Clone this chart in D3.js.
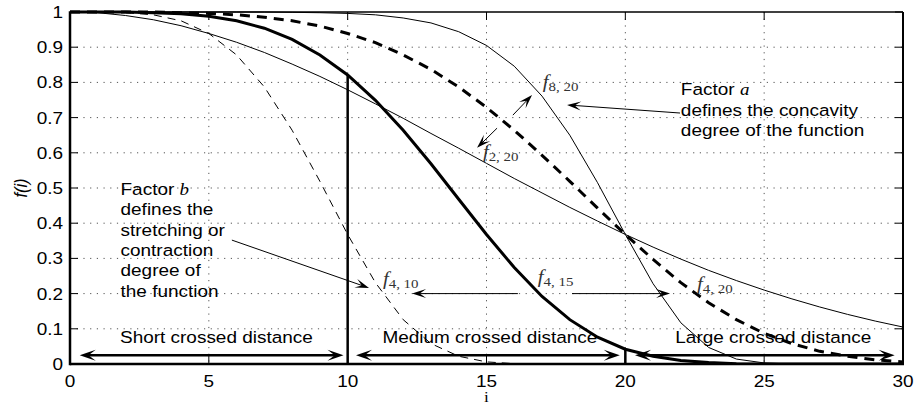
<!DOCTYPE html>
<meta charset="utf-8">
<style>
body { margin: 0; background: #fff; }
text { font-family: "Liberation Sans", Arial, sans-serif; fill: #000; }
.grid line { stroke: #555; stroke-width: 1; stroke-dasharray: 1.2,5.5; }
.curve { fill: none; stroke: #000; }
.math { font-family: "Liberation Serif", "DejaVu Serif", serif; fill: #333; }
</style>
<body>
<svg width="916" height="407"></svg>
<script src="https://d3js.org/d3.v7.min.js"></script>
<script>

// values, one per integer i
var iVals = [0,1,2,3,4,5,6,7,8,9,10,11,12,13,14,15,16,17,18,19,20,21,22,23,24,25,26,27,28,29,30];
var f2_20 = [1.000,0.998,0.990,0.978,0.961,0.939,0.914,0.885,0.852,0.817,0.779,0.739,0.698,0.655,0.613,0.570,0.527,0.486,0.445,0.406,0.368,0.332,0.298,0.266,0.237,0.210,0.185,0.162,0.141,0.122,0.105];
var f8_20 = [1,1,1,1,1,1,1,1,0.999,0.998,0.996,0.992,0.983,0.969,0.944,0.905,0.846,0.761,0.650,0.515,0.368,0.228,0.117,0.047,0.014,0.003,0,0,0,0,0];
var f4_20 = [1,1,1,1,0.998,0.996,0.992,0.985,0.975,0.960,0.939,0.913,0.878,0.837,0.787,0.729,0.664,0.593,0.519,0.443,0.368,0.297,0.231,0.174,0.126,0.087,0.058,0.036,0.022,0.012,0.006];
var f4_15 = [1,1,1,0.998,0.995,0.988,0.975,0.954,0.922,0.878,0.821,0.749,0.664,0.569,0.468,0.368,0.274,0.192,0.126,0.076,0.042,0.022,0.010,0.004,0.001,0,0,0,0,0,0];
var f4_10 = [1,1,0.998,0.992,0.975,0.939,0.878,0.787,0.664,0.519,0.368,0.231,0.126,0.058,0.022,0.006,0.001,0,0,0,0,0,0,0,0,0,0,0,0,0,0];

var xTicks = [0,5,10,15,20,25,30];
var yTicks = [0,0.1,0.2,0.3,0.4,0.5,0.6,0.7,0.8,0.9,1];

// distance bands (i from, i to) at the bottom
var bandNames = ["Short crossed distance", "Medium crossed distance", "Large crossed distance"];
var bandFrom = [0.35, 10.3, 20.35];
var bandTo = [9.85, 19.8, 29.7];
var bandLabelAt = [1.8, 11.25, 21.8];

// vertical cut lines: i and height
var cutI = [10, 20];
var cutTop = [0.821, 0.042];

var svg = d3.select("svg"),
    margin = {top: 12, right: 13, bottom: 43, left: 70},
    width = +svg.attr("width") - margin.left - margin.right,
    height = +svg.attr("height") - margin.top - margin.bottom;

var x = d3.scaleLinear().domain([0, 30]).range([0, width]);
var y = d3.scaleLinear().domain([0, 1]).range([height, 0]);

var g = svg.append("g").attr("transform", "translate(" + margin.left + "," + margin.top + ")");

var SX = 1.15; // text in the picture is a bit wide

function stretchText(parent, px, py, anchor, size) {
  return parent.append("text")
    .attr("transform", "translate(" + px + "," + py + ") scale(" + SX + ",1)")
    .attr("text-anchor", anchor || "start")
    .style("font-size", (size || 16.5) + "px");
}

// grid
var grid = g.append("g").attr("class", "grid");
grid.selectAll(".gx").data(xTicks.slice(1, -1)).enter().append("line")
    .attr("x1", function(d) { return x(d); }).attr("x2", function(d) { return x(d); })
    .attr("y1", 0).attr("y2", height);
grid.selectAll(".gy").data(yTicks.slice(1, -1)).enter().append("line")
    .attr("x1", 0).attr("x2", width)
    .attr("y1", function(d) { return y(d); }).attr("y2", function(d) { return y(d); });

// ticks inward on all four sides
var ticks = g.append("g").attr("stroke", "#000").attr("stroke-width", 1);
xTicks.forEach(function(d) {
  ticks.append("line").attr("x1", x(d)).attr("x2", x(d)).attr("y1", height).attr("y2", height - 8);
  ticks.append("line").attr("x1", x(d)).attr("x2", x(d)).attr("y1", 0).attr("y2", 8);
});
yTicks.forEach(function(d) {
  ticks.append("line").attr("x1", 0).attr("x2", 8).attr("y1", y(d)).attr("y2", y(d));
  ticks.append("line").attr("x1", width).attr("x2", width - 8).attr("y1", y(d)).attr("y2", y(d));
});

// tick labels
xTicks.forEach(function(d) {
  stretchText(g, x(d), height + 23, "middle").text(d);
});
yTicks.forEach(function(d) {
  stretchText(g, -7, y(d) + 6, "end").text(d3.format("~g")(d));
});

// clip
svg.append("clipPath").attr("id", "clip").append("rect")
    .attr("x", 0).attr("y", -2).attr("width", width).attr("height", height + 2);
var plot = g.append("g").attr("clip-path", "url(#clip)");

function lineFor(vals) {
  return d3.line()
    .x(function(d, k) { return x(iVals[k]); })
    .y(function(d) { return y(d); })(vals);
}

plot.append("path").attr("class", "curve").attr("d", lineFor(f2_20)).attr("stroke-width", 1);
plot.append("path").attr("class", "curve").attr("d", lineFor(f8_20)).attr("stroke-width", 1);
plot.append("path").attr("class", "curve").attr("d", lineFor(f4_10)).attr("stroke-width", 1)
    .attr("stroke-dasharray", "8,6");
plot.append("path").attr("class", "curve").attr("d", lineFor(f4_20)).attr("stroke-width", 3)
    .attr("stroke-dasharray", "10,7");
plot.append("path").attr("class", "curve").attr("d", lineFor(f4_15)).attr("stroke-width", 3);

cutI.forEach(function(d, k) {
  plot.append("line").attr("x1", x(d)).attr("x2", x(d))
    .attr("y1", y(0)).attr("y2", y(cutTop[k]))
    .attr("stroke", "#000").attr("stroke-width", 2.5);
});

// arrows
function head(parent, tx, ty, ang, L, W) {
  var n = L * 0.55;
  parent.append("path")
    .attr("d", "M0,0L" + (-L) + "," + (-W / 2) + "L" + (-n) + ",0L" + (-L) + "," + (W / 2) + "Z")
    .attr("transform", "translate(" + tx + "," + ty + ") rotate(" + ang + ")")
    .attr("fill", "#000");
}
function arrow(parent, i1, v1, i2, v2, thick) {
  var x1 = x(i1), y1 = y(v1), x2 = x(i2), y2 = y(v2);
  var L = thick ? 16 : 14, W = thick ? 11 : 9;
  var a = Math.atan2(y2 - y1, x2 - x1);
  parent.append("line")
    .attr("x1", x1).attr("y1", y1)
    .attr("x2", x2 - Math.cos(a) * L * 0.5).attr("y2", y2 - Math.sin(a) * L * 0.5)
    .attr("stroke", "#000").attr("stroke-width", thick ? 2.5 : 1);
  head(parent, x2, y2, a * 180 / Math.PI, L, W);
}
function dblArrow(parent, i1, i2, v) {
  var L = 16, W = 11;
  parent.append("line")
    .attr("x1", x(i1) + L * 0.5).attr("x2", x(i2) - L * 0.5)
    .attr("y1", y(v)).attr("y2", y(v))
    .attr("stroke", "#000").attr("stroke-width", 2.5);
  head(parent, x(i2), y(v), 0, L, W);
  head(parent, x(i1), y(v), 180, L, W);
}

var ann = g.append("g");
bandNames.forEach(function(d, k) {
  dblArrow(ann, bandFrom[k], bandTo[k], 0.025);
  stretchText(ann, x(bandLabelAt[k]), y(0.06), "start").text(d);
});

arrow(ann, 21.97, 0.713, 17.9, 0.736, false);   // factor a
arrow(ann, 15.95, 0.707, 16.64, 0.764, false);  // to f8,20
arrow(ann, 15.38, 0.670, 14.66, 0.614, false);  // to f2,20
arrow(ann, 5.83, 0.352, 10.77, 0.216, false);   // factor b
arrow(ann, 16.13, 0.2, 12.32, 0.2, false);      // to f4,10
arrow(ann, 18.08, 0.2, 21.61, 0.2, false);      // to f4,20

// curve names
var names = [["8, 20", 17.03, 0.784], ["2, 20", 14.87, 0.585], ["4, 10", 11.27, 0.224],
             ["4, 15", 16.85, 0.23], ["4, 20", 22.58, 0.21]];
names.forEach(function(d) {
  var t = stretchText(ann, x(d[1]), y(d[2]), "start", 18).attr("class", "math");
  t.append("tspan").style("font-style", "italic").text("f");
  t.append("tspan").attr("dy", 3).style("font-size", "13px").text(d[0]);
});

// factor notes
var noteA = ["defines the concavity", "degree of the function"];
var noteB = ["defines the", "stretching or", "contraction", "degree of", "the function"];
var ta = stretchText(ann, x(22.0), y(0.764), "start");
ta.append("tspan").text("Factor ");
ta.append("tspan").attr("class", "math").style("font-style", "italic").style("fill", "#000").text("a");
noteA.forEach(function(d, k) {
  stretchText(ann, x(22.0), y(0.764) + 20.5 * (k + 1), "start").text(d);
});
var tb = stretchText(ann, x(1.82), y(0.48), "start");
tb.append("tspan").text("Factor ");
tb.append("tspan").attr("class", "math").style("font-style", "italic").style("fill", "#000").text("b");
noteB.forEach(function(d, k) {
  stretchText(ann, x(1.82), y(0.48) + 20.3 * (k + 1), "start").text(d);
});

// frame
g.append("line").attr("x1", 0).attr("x2", width).attr("y1", 0).attr("y2", 0).attr("stroke", "#000").attr("stroke-width", 1.5);
g.append("line").attr("x1", width).attr("x2", width).attr("y1", 0).attr("y2", height).attr("stroke", "#000").attr("stroke-width", 2);
g.append("line").attr("x1", 0).attr("x2", 0).attr("y1", -0.75).attr("y2", height + 1.25).attr("stroke", "#000").attr("stroke-width", 2.5);
g.append("line").attr("x1", 0).attr("x2", width + 1).attr("y1", height).attr("y2", height).attr("stroke", "#000").attr("stroke-width", 2.5);

// axis labels
svg.append("text")
    .attr("transform", "translate(" + (margin.left + x(15)) + ",402) scale(" + SX + ",1)")
    .attr("text-anchor", "middle")
    .style("font-family", "Liberation Serif, serif").style("font-size", "15px")
    .text("i");
svg.append("text")
    .attr("transform", "translate(27," + (margin.top + y(0.5)) + ") rotate(-90) scale(1," + SX + ")")
    .attr("text-anchor", "middle")
    .style("font-style", "italic").style("font-size", "16.5px")
    .text("f(i)");

</script>
